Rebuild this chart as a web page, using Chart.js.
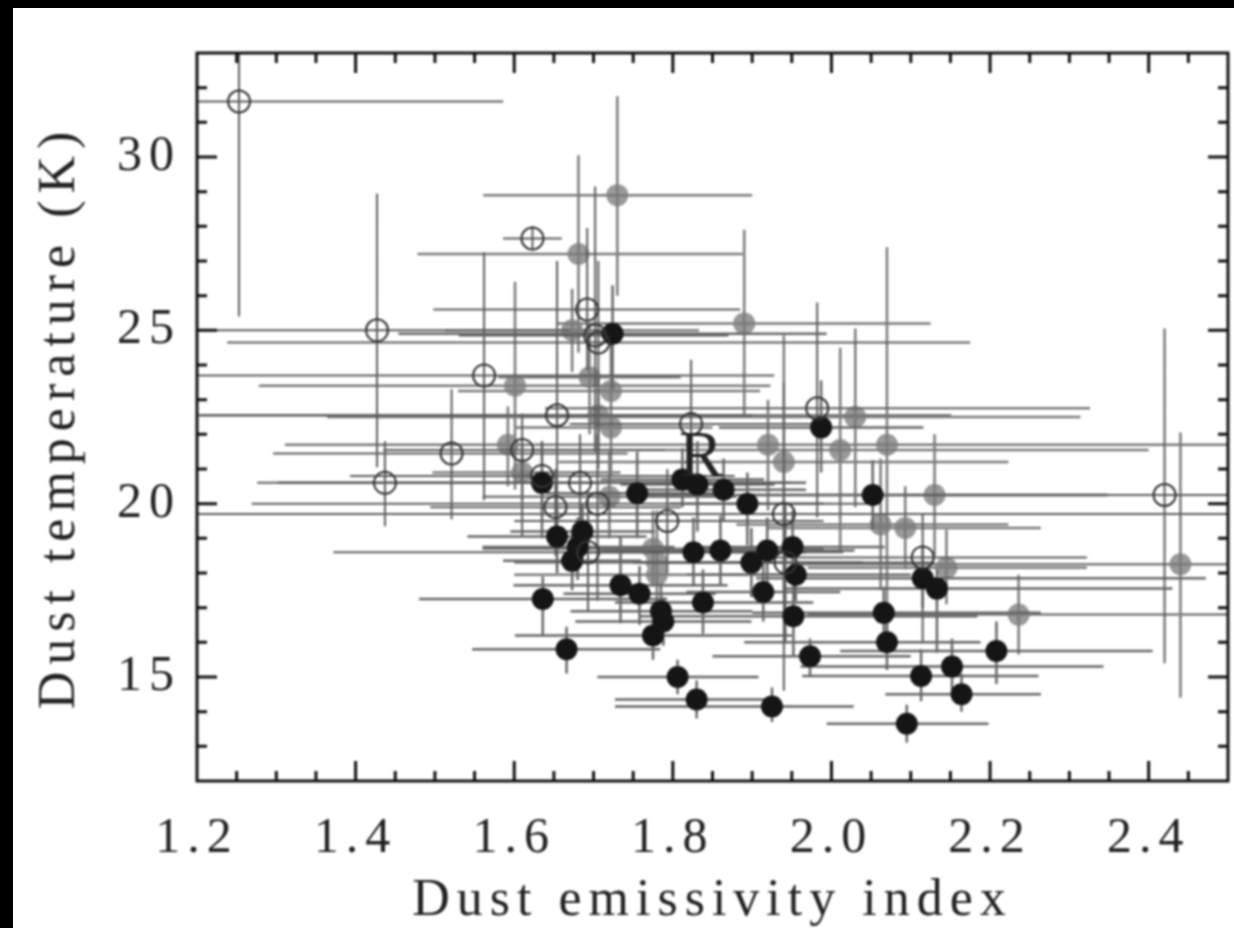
<!DOCTYPE html>
<html>
<head>
<meta charset="utf-8">
<title>Dust temperature vs emissivity index</title>
<script src="https://cdn.jsdelivr.net/npm/chart.js@4/dist/chart.umd.min.js"></script>
<style>
  html, body { margin: 0; height: 100%; background: #000; overflow: hidden; }
  #wrap { position: absolute; left: 13px; top: 8px; width: 1221px; height: 920px; background: #fff; }
  #chart { filter: blur(0.9px); }
</style>
</head>
<body>
<div id="wrap"><canvas id="chart" width="1221" height="920"></canvas></div>
<script>
// open circles
const openX   = [1.253,1.427,1.623,1.692,1.702,1.706,1.562,1.654,1.521,1.437,1.635,1.683,1.705,1.652,1.793,1.693,1.823,1.982,1.94,1.942,2.115,2.42,1.61];
const openY   = [31.6,25.0,27.65,25.6,24.85,24.65,23.7,22.55,21.45,20.6,20.8,20.6,20.0,19.9,19.5,18.6,22.3,22.75,19.7,18.3,18.45,20.25,21.55];
const openXLo = [1.2,1.2,1.586,1.498,1.53,1.238,1.2,1.204,1.296,1.276,1.393,1.45,1.269,1.494,1.6,1.372,1.67,1.639,1.2,1.75,1.905,2.09,1.435];
const openXHi = [1.586,1.67,1.66,1.885,1.87,2.175,1.928,1.9,1.743,1.607,1.878,1.95,2.045,1.81,1.99,2.015,1.98,2.326,2.6,2.13,2.322,2.6,1.79];
const openYLo = [25.4,21.05,27.3,23.85,21.5,21.0,20.1,18.0,19.55,19.35,19.8,19.2,17.2,18.5,18.0,16.9,20.5,19.6,14.6,16.0,16.0,15.4,19.05];
const openYHi = [33,28.95,28.0,27.95,29.15,27.0,27.25,27.0,23.3,21.8,21.8,22.0,22.0,21.0,21,20.3,24.15,25.8,23.5,20,19.7,25.05,22.6];

// grey filled circles
const greyX   = [1.73,1.681,1.673,1.89,1.695,1.722,1.601,1.706,1.722,1.592,1.61,1.72,2.03,2.011,1.92,1.94,2.07,2.13,2.062,2.093,2.145,2.236,2.44,1.775,1.78,1.78];
const greyY   = [28.9,27.2,25.0,25.2,23.65,23.25,23.4,22.55,22.2,21.7,20.9,20.2,22.5,21.55,21.7,21.2,21.7,20.25,19.4,19.3,18.15,16.8,18.25,18.7,18.3,17.95];
const greyXLo = [1.561,1.478,1.513,1.654,1.58,1.529,1.278,1.2,1.6,1.4,1.497,1.56,1.364,1.623,1.311,1.656,1.95,1.9,1.88,1.92,1.97,1.97,1.96,1.56,1.6,1.6];
const greyXHi = [1.9,1.888,1.833,2.125,1.81,1.91,1.923,2.151,1.85,1.8,1.734,1.88,2.314,2.4,2.6,2.223,2.19,2.348,2.223,2.264,2.322,2.6,2.6,1.99,1.96,1.97];
const greyYLo = [26,24.35,23.8,22.5,22,21.8,20.4,21.5,20.8,20.5,20.1,19,19.9,18.65,19.8,17.5,16,18.5,17.5,18.1,17.1,15.65,14.4,17.7,17,17];
const greyYHi = [31.75,30.05,26.2,27.9,25.2,24.8,26.4,23.6,23.5,22.8,21.7,21.5,25.05,24.5,23,24.85,27.4,22,21.3,20.5,19.25,17.95,22.05,19.8,19.8,19];

// black filled circles
const blackX   = [1.724,1.987,1.635,1.812,1.831,1.864,1.894,1.755,2.052,1.654,1.686,1.68,1.673,1.636,1.666,1.734,1.758,1.785,1.788,1.775,1.838,1.826,1.86,1.899,1.919,1.914,1.951,1.955,1.952,1.973,2.066,2.07,2.115,2.133,2.113,2.152,2.208,2.164,2.095,1.925,1.806,1.83];
const blackY   = [24.9,22.2,20.6,20.7,20.55,20.4,20.0,20.3,20.25,19.05,19.2,18.75,18.35,17.25,15.8,17.65,17.4,16.9,16.6,16.2,17.15,18.6,18.65,18.3,18.65,17.45,18.75,17.95,16.75,15.6,16.85,16.0,17.85,17.55,15.03,15.3,15.75,14.5,13.65,14.15,15.0,14.35];
const blackXLo = [1.454,1.858,1.302,1.709,1.734,1.759,1.796,1.64,1.76,1.541,1.595,1.56,1.586,1.48,1.547,1.599,1.662,1.671,1.677,1.601,1.727,1.683,1.709,1.759,1.817,1.817,1.835,1.817,1.759,1.85,1.9,1.89,1.905,1.94,1.963,1.961,2.011,2.068,1.994,1.727,1.705,1.727];
const blackXHi = [1.994,2.116,1.968,1.915,1.928,1.968,1.99,1.87,2.348,1.767,1.777,1.802,1.76,1.793,1.784,1.869,1.854,1.9,1.899,1.95,1.977,1.968,2.011,2.039,2.029,2.011,2.067,2.1,2.184,2.1,2.264,2.188,2.472,2.43,2.261,2.343,2.405,2.264,2.198,2.028,1.908,1.933];
const blackYLo = [23.3,20.9,19.0,19.9,19.2,19.5,18.8,19.0,19.25,18.0,18.4,17.8,17.5,16.2,15.1,16.55,16.5,16,15.9,15.5,16.25,17.6,17.65,17.3,17.7,16.6,17.7,17.2,15.6,15,16,15.2,17,15.7,14.3,14.6,14.8,14.0,13.1,13.7,14.5,13.8];
const blackYHi = [26.3,23.55,21.8,21.6,21.8,21.3,20.9,21.5,21.25,20.0,20.0,19.6,19.2,17.9,16.45,19.05,18.2,17.7,17.3,17,18.1,19.6,19.65,19.3,19.6,18.3,19.8,18.8,17.7,16.1,17.6,16.8,18.8,18.1,15.8,16.1,16.6,15.1,14.2,14.7,15.5,14.9];

const xMinor = [1.25,1.3,1.35,1.45,1.5,1.55,1.65,1.7,1.75,1.85,1.9,1.95,2.05,2.1,2.15,2.25,2.3,2.35,2.45];
const xMajor = [1.4,1.6,1.8,2.0,2.2,2.4];
const yMinor = [13,14,16,17,18,19,21,22,23,24,26,27,28,29,31,32];
const yMajor = [15,20,25,30];

const FONT = 'Liberation Serif';

function points(xs, ys) {
  return xs.map((x, i) => ({ x, y: ys[i] }));
}

// one line dataset per series, broken with NaN between the bars
function errorBars(xs, ys, xLo, xHi, yLo, yHi) {
  const out = [];
  xs.forEach((x, i) => {
    out.push({ x: xLo[i], y: ys[i] }, { x: xHi[i], y: ys[i] }, { x: NaN, y: NaN });
    out.push({ x, y: yLo[i] }, { x, y: yHi[i] }, { x: NaN, y: NaN });
  });
  return out;
}

function barSet(data, color, width, order) {
  return { data, showLine: true, spanGaps: false, pointRadius: 0, borderColor: color, borderWidth: width, order };
}

const frame = {
  id: 'frame',
  afterDraw(chart) {
    const { ctx, chartArea: a, scales: { x, y } } = chart;
    ctx.save();
    ctx.strokeStyle = '#111';
    ctx.lineWidth = 3;
    ctx.strokeRect(a.left, a.top, a.right - a.left, a.bottom - a.top);
    const tickX = (v, len) => {
      const p = x.getPixelForValue(v);
      ctx.moveTo(p, a.bottom); ctx.lineTo(p, a.bottom - len);
      ctx.moveTo(p, a.top); ctx.lineTo(p, a.top + len);
    };
    const tickY = (v, len) => {
      const p = y.getPixelForValue(v);
      ctx.moveTo(a.left, p); ctx.lineTo(a.left + len, p);
      ctx.moveTo(a.right, p); ctx.lineTo(a.right - len, p);
    };
    ctx.beginPath();
    xMinor.forEach(v => tickX(v, 10));
    xMajor.forEach(v => tickX(v, 20));
    yMinor.forEach(v => tickY(v, 10));
    yMajor.forEach(v => tickY(v, 20));
    ctx.stroke();
    ctx.fillStyle = '#222';
    ctx.font = '66px ' + FONT;
    ctx.textAlign = 'center';
    ctx.textBaseline = 'middle';
    ctx.fillText('R', x.getPixelForValue(1.84), y.getPixelForValue(21.3));
    ctx.restore();
  }
};

new Chart(document.getElementById('chart'), {
  type: 'scatter',
  data: {
    datasets: [
      { data: points(openX, openY), pointRadius: 11, pointBackgroundColor: 'rgba(0,0,0,0)', pointBorderColor: '#333', pointBorderWidth: 2, order: 1 },
      { data: points(blackX, blackY), pointRadius: 11, pointBackgroundColor: '#151515', pointBorderColor: '#151515', pointBorderWidth: 0, order: 2 },
      barSet(errorBars(openX, openY, openXLo, openXHi, openYLo, openYHi), '#5c5c5c', 2, 3),
      barSet(errorBars(blackX, blackY, blackXLo, blackXHi, blackYLo, blackYHi), '#666', 2.5, 4),
      barSet(errorBars(greyX, greyY, greyXLo, greyXHi, greyYLo, greyYHi), '#7a7a7a', 2.5, 5),
      { data: points(greyX, greyY), pointRadius: 11, pointBackgroundColor: '#999', pointBorderColor: '#999', pointBorderWidth: 0, order: 6 }
    ]
  },
  options: {
    responsive: false,
    animation: false,
    layout: { autoPadding: false, padding: { top: 45, right: 6, left: 0, bottom: 0 } },
    plugins: { legend: { display: false }, tooltip: { enabled: false } },
    scales: {
      x: {
        type: 'linear', min: 1.2, max: 2.5,
        afterFit(s) { s.height = 147; },
        grid: { display: false }, border: { display: false },
        ticks: {
          stepSize: 0.2, includeBounds: false, autoSkip: false, maxRotation: 0, padding: 20,
          color: '#222', font: { family: FONT, size: 50 },
          callback: v => Number(v).toFixed(1)
        },
        title: { display: true, text: 'Dust emissivity index', color: '#222', font: { family: FONT, size: 52 }, padding: { top: 0, bottom: -5 } }
      },
      y: {
        type: 'linear', min: 12, max: 33,
        afterFit(s) { s.width = 184; },
        grid: { display: false }, border: { display: false },
        ticks: {
          stepSize: 5, includeBounds: false, autoSkip: false, padding: 8,
          color: '#222', font: { family: FONT, size: 50 },
          callback: v => (v % 5 === 0 ? String(v) : '')
        },
        title: { display: true, text: 'Dust temperature (K)', color: '#222', font: { family: FONT, size: 52 }, padding: { top: 16, bottom: 0 } }
      }
    }
  },
  plugins: [frame, {
    id: 'spacing',
    beforeDraw(chart) { chart.ctx.letterSpacing = '7px'; }
  }]
});
</script>
</body>
</html>
